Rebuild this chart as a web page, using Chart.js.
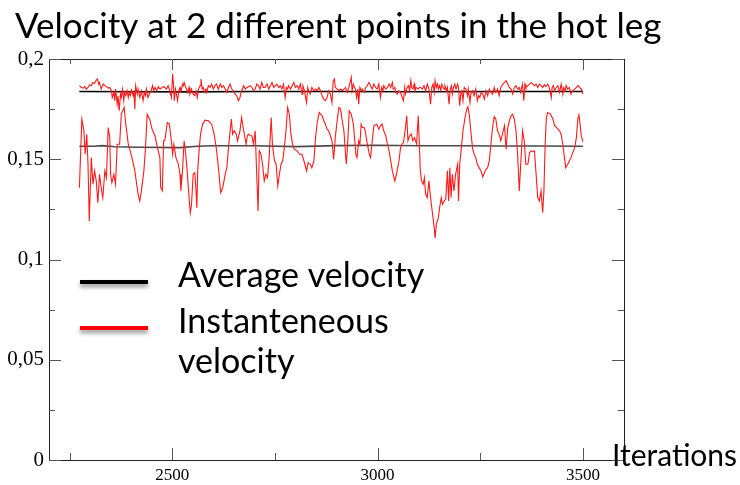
<!DOCTYPE html>
<html>
<head>
<meta charset="utf-8">
<script src="https://cdn.jsdelivr.net/npm/chart.js@4"></script>
<style>
  body { margin: 0; background: #fff; }
  #wrap { position: relative; width: 740px; height: 485px; }
</style>
</head>
<body>
<div id="wrap"><canvas id="chart" width="740" height="485"></canvas></div>
<script>
// upper point, instantaneous
const hiIter = [2274,2279,2283,2287,2291,2295,2299,2303,2307,2311,2315,2318,2321,2323,2327,2332,2336,2340,2344,2348,2352,2354,2358,2360,2362,2366,2368,2371,2374,2376,2379,2382,2384,2387,2390,2393,2395,2398,2401,2405,2407,2409,2411,2415,2417,2421,2425,2429,2432,2435,2437,2441,2446,2450,2452,2455,2458,2462,2466,2470,2474,2478,
  2482,2486,2490,2494,2498,2501,2503,2505,2508,2511,2513,2516,2519,2521,2525,2527,2529,2533,2535,2538,2541,2543,2547,2551,2555,2558,2561,2564,2568,2570,2573,2576,2578,2582,2584,2588,2592,2596,2600,2604,2608,2612,2617,2621,2625,2629,2633,2637,2641,2645,2649,2653,2657,2661,2665,2669,2674,2678,2682,
  2690,2694,2698,2702,2706,2710,2714,2718,2722,2726,2731,2735,2739,2743,2747,2751,2755,2759,2763,2767,2771,2775,2778,2781,2783,2788,2792,2796,2800,2804,2808,2812,2816,2818,2822,2824,2827,2830,2832,2836,2840,2845,2849,2853,2857,2861,2865,2869,2873,2877,2881,2885,2889,2892,2895,
  2897,2902,2906,2910,2914,2918,2922,2926,2930,2932,2936,2938,2941,2944,2946,2949,2952,2954,2957,2960,2963,2967,2971,2975,2979,2983,2987,2991,2995,2999,3003,3007,3010,3013,3015,3020,3024,3028,3032,3036,3038,3042,3044,3048,3052,3056,3060,3063,3066,3068,3072,3075,3078,3081,3083,3086,3089,3091,3094,3099,3102,
  3105,3109,3113,3117,3121,3125,3129,3132,3135,3138,3140,3143,3146,3148,3151,3154,3156,3160,3162,3164,3168,3170,3174,3177,3180,3182,3185,3188,3191,3195,3197,3200,3203,3205,3208,3211,3215,3219,3221,3225,3227,3231,3235,3239,3243,3246,3249,3252,3256,3260,3264,3268,3272,3276,3280,3284,3288,3292,3296,3300,3305,3309,
  3313,3317,3321,3325,3329,3333,3337,3341,3345,3348,3351,3353,3356,3359,3361,3366,3370,3374,3378,3382,3386,3390,3394,3398,3402,3406,3410,3414,3418,3423,3425,3428,3431,3435,3439,3443,3447,3451,3453,3457,3459,3463,3467,3471,3475,3480,3484,3488,3492,3496,3500];
const hiVel = [0.1867,0.1858,0.1855,0.1862,0.1850,0.1858,0.1872,0.1867,0.1883,0.1878,0.1895,0.1900,0.1875,0.1883,0.1850,0.1875,0.1867,0.1862,0.1855,0.1858,0.1842,0.1808,0.1833,0.1792,0.1850,0.1775,0.1817,0.1742,0.1825,0.1808,0.1850,0.1792,0.1833,0.1817,0.1842,0.1808,0.1833,0.1817,0.1845,0.1817,0.1833,0.1750,0.1867,0.1825,0.1850,0.1808,0.1842,0.1792,0.1833,0.1817,0.1850,0.1808,0.1833,0.1850,0.1867,0.1842,0.1858,0.1842,0.1862,0.1850,0.1855,0.1862,
  0.1858,0.1850,0.1867,0.1842,0.1808,0.1925,0.1875,0.1792,0.1850,0.1817,0.1792,0.1842,0.1858,0.1833,0.1875,0.1867,0.1883,0.1858,0.1850,0.1833,0.1858,0.1825,0.1850,0.1825,0.1817,0.1842,0.1808,0.1850,0.1867,0.1900,0.1850,0.1858,0.1833,0.1850,0.1833,0.1867,0.1858,0.1875,0.1850,0.1867,0.1875,0.1850,0.1875,0.1858,0.1867,0.1850,0.1833,0.1858,0.1875,0.1850,0.1842,0.1825,0.1817,0.1792,0.1808,0.1842,0.1867,0.1850,0.1858,
  0.1867,0.1858,0.1842,0.1850,0.1875,0.1867,0.1850,0.1883,0.1858,0.1858,0.1875,0.1850,0.1867,0.1883,0.1858,0.1867,0.1875,0.1858,0.1867,0.1850,0.1875,0.1808,0.1858,0.1850,0.1867,0.1850,0.1867,0.1883,0.1858,0.1867,0.1850,0.1875,0.1825,0.1867,0.1842,0.1817,0.1783,0.1858,0.1842,0.1825,0.1858,0.1842,0.1850,0.1842,0.1858,0.1842,0.1817,0.1800,0.1792,0.1808,0.1842,0.1825,0.1783,0.1892,0.1900,
  0.1858,0.1850,0.1842,0.1850,0.1842,0.1850,0.1858,0.1833,0.1858,0.1875,0.1908,0.1842,0.1875,0.1858,0.1850,0.1808,0.1850,0.1775,0.1858,0.1842,0.1850,0.1833,0.1858,0.1867,0.1883,0.1867,0.1850,0.1875,0.1858,0.1850,0.1875,0.1808,0.1858,0.1842,0.1867,0.1850,0.1858,0.1875,0.1858,0.1883,0.1850,0.1858,0.1833,0.1825,0.1842,0.1833,0.1808,0.1792,0.1858,0.1825,0.1858,0.1867,0.1842,0.1892,0.1858,0.1850,0.1875,0.1842,0.1858,0.1850,0.1858,
  0.1858,0.1850,0.1867,0.1842,0.1875,0.1850,0.1775,0.1858,0.1875,0.1833,0.1892,0.1858,0.1875,0.1850,0.1867,0.1842,0.1875,0.1858,0.1850,0.1867,0.1842,0.1858,0.1775,0.1850,0.1867,0.1825,0.1858,0.1875,0.1850,0.1875,0.1858,0.1767,0.1833,0.1842,0.1792,0.1858,0.1850,0.1817,0.1850,0.1783,0.1825,0.1842,0.1817,0.1850,0.1792,0.1817,0.1808,0.1833,0.1825,0.1800,0.1842,0.1817,0.1850,0.1833,0.1825,0.1858,0.1833,0.1850,0.1817,0.1858,0.1875,0.1883,
  0.1892,0.1875,0.1858,0.1850,0.1825,0.1858,0.1867,0.1850,0.1858,0.1833,0.1858,0.1875,0.1792,0.1875,0.1858,0.1867,0.1875,0.1883,0.1875,0.1867,0.1875,0.1858,0.1875,0.1867,0.1858,0.1872,0.1862,0.1875,0.1858,0.1808,0.1858,0.1867,0.1842,0.1858,0.1867,0.1833,0.1875,0.1825,0.1858,0.1842,0.1867,0.1850,0.1858,0.1825,0.1842,0.1850,0.1858,0.1867,0.1858,0.1850,0.1825];

// lower point, instantaneous
const loIter = [2274,2280,2285,2288,2292,2295,2298,2303,2307,2311,2315,2319,2323,2327,2331,2336,2340,2344,2348,2350,2353,2358,2362,2366,2372,2376,2383,2386,2393,2401,2409,2417,2421,2425,2431,2435,2439,2445,2451,2458,2464,2470,2472,2476,2479,
  2482,2488,2493,2497,2501,2504,2509,2515,2519,2521,2525,2529,2533,2537,2541,2544,2547,2551,2555,2558,2560,2562,2566,2569,2574,2580,2588,2596,2602,2606,2610,2614,2618,2623,2629,2633,2637,2641,2644,2647,2651,2656,2659,2665,2669,2674,2680,2683,
  2686,2690,2694,2698,2702,2706,2709,2712,2716,2720,2724,2728,2732,2736,2741,2744,2749,2753,2757,2761,2765,2769,2773,2777,2781,2785,2789,2793,2797,2804,2810,2816,2823,2827,2831,2836,2840,2845,2849,2853,2858,2865,2869,2873,2877,2881,2885,2889,2893,
  2897,2902,2906,2910,2914,2918,2922,2924,2928,2931,2936,2941,2944,2947,2950,2954,2957,2960,2963,2967,2970,2975,2980,2983,2987,2991,2998,3003,3007,3011,3015,3020,3024,3028,3032,3036,3042,3046,3052,3056,3059,3063,3066,3071,3074,3078,3082,3086,3090,3095,3099,
  3103,3104,3107,3111,3114,3117,3121,3125,3129,3133,3138,3140,3143,3148,3151,3155,3158,3162,3166,3170,3173,3176,3179,3182,3186,3190,3195,3197,3200,3204,3208,3213,3217,3220,3223,3227,3231,3235,3239,3243,3247,3252,3256,3260,3264,3268,3272,3276,3280,3284,3288,3292,3296,3300,3304,3309,
  3313,3317,3321,3325,3329,3333,3337,3341,3345,3349,3353,3357,3361,3366,3370,3374,3378,3382,3386,3390,3394,3398,3402,3405,3408,3411,3414,3421,3427,3431,3436,3443,3447,3451,3455,3458,3463,3467,3471,3475,3480,3484,3488,3490,3493,3496,3500];
const loVel = [0.1358,0.1700,0.1642,0.1525,0.1625,0.1475,0.1192,0.1508,0.1375,0.1442,0.1392,0.1283,0.1425,0.1358,0.1308,0.1442,0.1408,0.1658,0.1608,0.1425,0.1383,0.1425,0.1375,0.1575,0.1575,0.1725,0.1758,0.1692,0.1575,0.1517,0.1442,0.1325,0.1292,0.1342,0.1442,0.1558,0.1725,0.1700,0.1650,0.1617,0.1558,0.1508,0.1358,0.1342,0.1592,
  0.1592,0.1683,0.1675,0.1608,0.1525,0.1575,0.1508,0.1475,0.1425,0.1342,0.1442,0.1592,0.1525,0.1425,0.1308,0.1233,0.1275,0.1425,0.1433,0.1342,0.1258,0.1442,0.1558,0.1625,0.1675,0.1695,0.1692,0.1675,0.1625,0.1575,0.1508,0.1425,0.1333,0.1358,0.1425,0.1458,0.1558,0.1642,0.1700,0.1625,0.1642,0.1625,0.1592,0.1642,0.1708,0.1642,0.1575,0.1617,
  0.1625,0.1617,0.1617,0.1575,0.1642,0.1408,0.1242,0.1542,0.1525,0.1475,0.1392,0.1425,0.1408,0.1508,0.1708,0.1575,0.1492,0.1475,0.1367,0.1425,0.1475,0.1492,0.1558,0.1642,0.1758,0.1725,0.1625,0.1575,0.1550,0.1542,0.1525,0.1525,0.1475,0.1442,0.1483,0.1475,0.1458,0.1492,0.1608,0.1683,0.1733,0.1717,0.1692,0.1675,0.1650,0.1642,0.1617,0.1592,0.1500,
  0.1608,0.1700,0.1758,0.1750,0.1692,0.1642,0.1525,0.1475,0.1608,0.1742,0.1725,0.1675,0.1608,0.1525,0.1508,0.1592,0.1575,0.1675,0.1658,0.1658,0.1642,0.1575,0.1525,0.1508,0.1592,0.1667,0.1675,0.1650,0.1667,0.1675,0.1642,0.1617,0.1575,0.1542,0.1492,0.1442,0.1392,0.1425,0.1492,0.1558,0.1575,0.1583,0.1625,0.1717,0.1592,0.1617,0.1625,0.1592,0.1608,0.1575,0.1717,
  0.1508,0.1442,0.1392,0.1375,0.1408,0.1325,0.1308,0.1392,0.1308,0.1242,0.1158,0.1108,0.1175,0.1208,0.1258,0.1308,0.1275,0.1292,0.1300,0.1442,0.1292,0.1458,0.1308,0.1425,0.1342,0.1425,0.1475,0.1292,0.1475,0.1558,0.1642,0.1708,0.1750,0.1762,0.1725,0.1642,0.1558,0.1525,0.1508,0.1475,0.1458,0.1442,0.1412,0.1433,0.1450,0.1458,0.1492,0.1575,0.1658,0.1712,0.1700,0.1642,0.1625,0.1592,0.1625,0.1667,
  0.1550,0.1658,0.1692,0.1717,0.1725,0.1700,0.1642,0.1525,0.1342,0.1492,0.1642,0.1592,0.1475,0.1475,0.1533,0.1542,0.1538,0.1542,0.1425,0.1308,0.1292,0.1342,0.1233,0.1342,0.1575,0.1708,0.1733,0.1725,0.1700,0.1667,0.1658,0.1642,0.1625,0.1575,0.1508,0.1458,0.1475,0.1492,0.1508,0.1533,0.1558,0.1608,0.1708,0.1728,0.1675,0.1617,0.1588];

// running averages
const hiAvgIter = [2274, 2420, 2540, 2700, 2900, 3100, 3300, 3500];
const hiAvgVel = [0.1838, 0.1837, 0.1836, 0.1838, 0.1838, 0.1837, 0.1838, 0.1838];
const loAvgIter = [2274, 2310, 2330, 2360, 2420, 2520, 2560, 2600, 2700, 2800, 2900, 3000, 3100, 3200, 3300, 3400, 3500];
const loAvgVel = [0.1565, 0.1565, 0.1568, 0.1562, 0.1560, 0.1558, 0.1565, 0.1567, 0.1567, 0.1563, 0.1568, 0.1570, 0.1567, 0.1567, 0.1566, 0.1566, 0.1565];

// axis ticks
const xMajor = [2500, 3000, 3500];
const xMinor = [2250, 2750, 3250];
const yMajor = [0, 0.05, 0.1, 0.15, 0.2];
const yMinor = [0.025, 0.075, 0.125, 0.175];

const titleText = "Velocity at 2 different points in the hot leg";
const xTitle = "Iterations";
const legendItems = [
  { lines: ["Average velocity"], color: "#000000" },
  { lines: ["Instanteneous", "velocity"], color: "#ff0000" }
];

function pts(xs, ys) {
  const n = Math.min(xs.length, ys.length);
  const out = [];
  for (let i = 0; i < n; i++) out.push({ x: xs[i], y: ys[i] });
  return out;
}

const overlay = {
  id: "overlay",
  afterDraw(chart) {
    const { ctx, chartArea: a, scales: { x, y } } = chart;
    ctx.save();
    // frame
    ctx.strokeStyle = "#222";
    ctx.lineWidth = 1;
    ctx.strokeRect(Math.round(a.left) + 0.5, Math.round(a.top) + 0.5,
      Math.round(a.right - a.left), Math.round(a.bottom - a.top));
    // tick marks, pointing inward
    ctx.strokeStyle = "#555";
    ctx.beginPath();
    yMajor.forEach(v => {
      const p = Math.round(y.getPixelForValue(v)) + 0.5;
      ctx.moveTo(a.left, p); ctx.lineTo(a.left + 12, p);
      ctx.moveTo(a.right, p); ctx.lineTo(a.right - 12, p);
    });
    yMinor.forEach(v => {
      const p = Math.round(y.getPixelForValue(v)) + 0.5;
      ctx.moveTo(a.left, p); ctx.lineTo(a.left + 6, p);
      ctx.moveTo(a.right, p); ctx.lineTo(a.right - 6, p);
    });
    xMajor.forEach(v => {
      const p = Math.round(x.getPixelForValue(v)) + 0.5;
      ctx.moveTo(p, a.bottom); ctx.lineTo(p, a.bottom - 12);
      ctx.moveTo(p, a.top); ctx.lineTo(p, a.top + 11);
    });
    xMinor.forEach(v => {
      const p = Math.round(x.getPixelForValue(v)) + 0.5;
      ctx.moveTo(p, a.bottom); ctx.lineTo(p, a.bottom - 7);
      ctx.moveTo(p, a.top); ctx.lineTo(p, a.top + 5);
    });
    ctx.stroke();

    // title
    ctx.fillStyle = "#000";
    ctx.textBaseline = "alphabetic";
    ctx.textAlign = "left";
    ctx.font = "35px Lato";
    ctx.fillText(titleText, 15, 38);

    // axis name
    ctx.font = "30px Lato";
    ctx.fillText(xTitle, 612, 466);

    // legend
    const rows = [287, 333];
    legendItems.forEach((it, i) => {
      const ly = rows[i] - 5;
      ctx.save();
      ctx.shadowColor = "rgba(0,0,0,0.45)";
      ctx.shadowBlur = 4;
      ctx.shadowOffsetY = 3;
      ctx.strokeStyle = it.color;
      ctx.lineWidth = 4;
      ctx.beginPath();
      ctx.moveTo(80, ly); ctx.lineTo(148, ly);
      ctx.stroke();
      ctx.restore();
      ctx.font = "34px Lato";
      it.lines.forEach((t, j) => ctx.fillText(t, 178, rows[i] + j * 40));
    });
    ctx.restore();
  }
};

new Chart(document.getElementById("chart"), {
  type: "line",
  data: {
    datasets: [
      { label: "upper instantaneous", data: pts(hiIter, hiVel), borderColor: "#ff1a1a", borderWidth: 1.1 },
      { label: "lower instantaneous", data: pts(loIter, loVel), borderColor: "#ff1a1a", borderWidth: 1.1 },
      { label: "upper average", data: pts(hiAvgIter, hiAvgVel), borderColor: "#000000", borderWidth: 1.6 },
      { label: "lower average", data: pts(loAvgIter, loAvgVel), borderColor: "#4a4a4a", borderWidth: 1.6 }
    ]
  },
  options: {
    responsive: false,
    animation: false,
    devicePixelRatio: 1,
    layout: { padding: { left: 0, right: 116, top: 59, bottom: 0 } },
    elements: { point: { radius: 0 }, line: { tension: 0, fill: false } },
    plugins: { legend: { display: false }, tooltip: { enabled: false }, title: { display: false } },
    scales: {
      x: {
        type: "linear",
        min: 2200,
        max: 3600,
        grid: { display: false, drawTicks: false },
        border: { display: false },
        afterBuildTicks: s => { s.ticks = xMajor.map(v => ({ value: v })); },
        afterFit: s => { s.height = 25; },
        ticks: {
          padding: 5,
          maxRotation: 0,
          color: "#000",
          font: { family: "Liberation Serif", size: 17 },
          callback: v => String(v)
        }
      },
      y: {
        min: 0,
        max: 0.2,
        grid: { display: false, drawTicks: false },
        border: { display: false },
        afterBuildTicks: s => { s.ticks = yMajor.map(v => ({ value: v })); },
        afterFit: s => { s.width = 49; },
        ticks: {
          padding: 5,
          color: "#000",
          font: { family: "Liberation Serif", size: 21 },
          callback: v => String(Number(v.toFixed(3))).replace(".", ",")
        }
      }
    }
  },
  plugins: [overlay]
});
</script>
</body>
</html>
